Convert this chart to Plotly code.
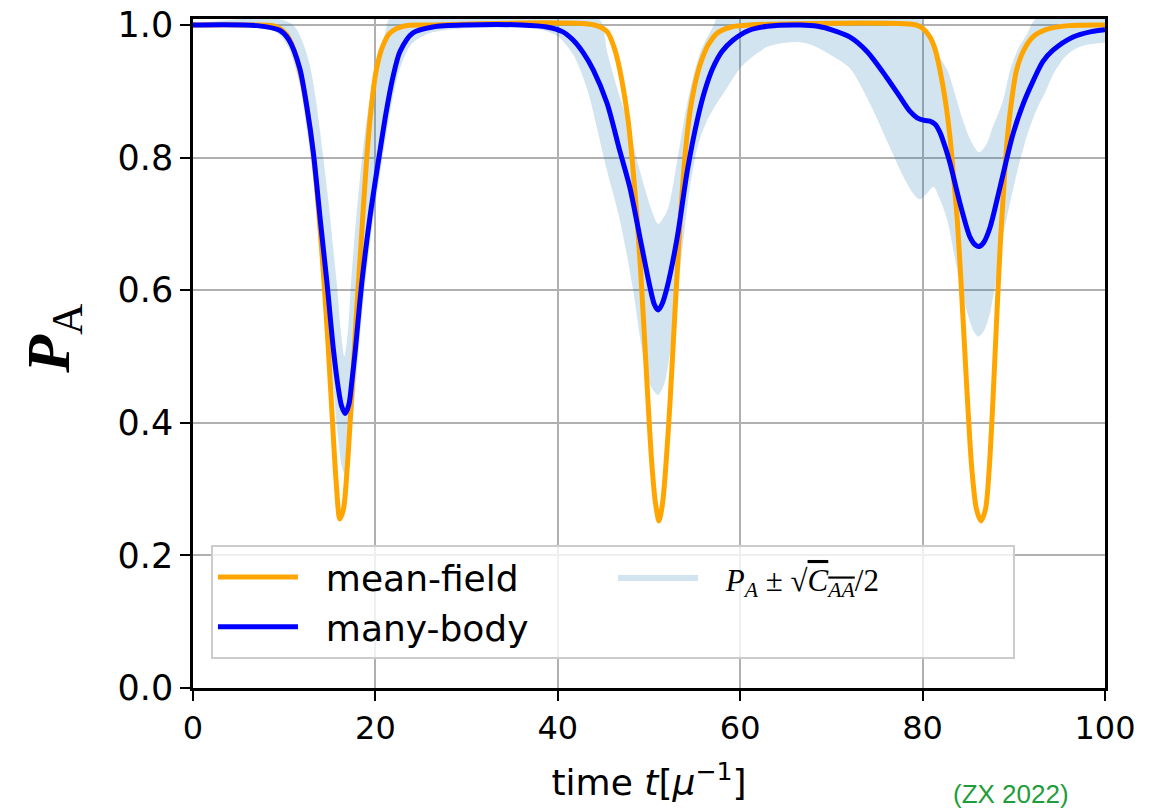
import plotly.graph_objects as go

# ---- data ----
mf_t = [0, 6, 9, 10.3, 11.0, 11.7, 12.5, 13.2, 13.8, 14.3, 14.8, 15.3, 15.7, 16.1, 16.5, 16.9,
        17.4, 17.9, 18.4, 19.0, 19.5, 20.1, 20.8, 21.6, 23, 26, 44, 45.4, 46.2, 46.8, 47.7,
        48.2, 48.7, 49.1, 49.5, 49.9, 50.3, 50.7, 51.1, 51.5, 51.9, 52.3, 52.7, 53.1, 53.5,
        54.0, 54.5, 55.0, 55.6, 56.5, 57.5, 59, 61, 79.3, 80.0, 80.8, 81.4, 81.9, 82.5, 83.0,
        83.4, 83.8, 84.2, 84.6, 85.0, 85.4, 85.9, 86.4, 86.9, 87.3, 87.7, 88.1, 88.5, 88.9,
        89.3, 89.8, 90.3, 91.1, 92.1, 93.5, 96, 100]
mf_p = [1.0, 1.0, 0.998, 0.985, 0.965, 0.932, 0.875, 0.807, 0.715, 0.625, 0.52, 0.40, 0.31, 0.255,
        0.27, 0.33, 0.44, 0.56, 0.665, 0.79, 0.87, 0.932, 0.968, 0.988, 0.998, 1.0, 1.0, 0.99,
        0.965, 0.932, 0.857, 0.79, 0.706, 0.625, 0.53, 0.43, 0.34, 0.28, 0.252, 0.28, 0.345,
        0.43, 0.53, 0.63, 0.72, 0.81, 0.87, 0.908, 0.94, 0.97, 0.988, 0.997, 1.0, 1.0, 0.995,
        0.982, 0.962, 0.932, 0.885, 0.831, 0.77, 0.706, 0.615, 0.515, 0.415, 0.33, 0.27, 0.252,
        0.27, 0.33, 0.43, 0.55, 0.665, 0.755, 0.831, 0.89, 0.932, 0.962, 0.982, 0.993, 0.999, 1.0]

mb_t = [0, 7, 9.5, 10.5, 11.7, 12.5, 13.2, 14.0, 14.7, 15.4, 15.9, 16.3, 16.7, 17.1, 17.4, 17.8,
        18.5, 19.4, 20.5, 21.2, 21.9, 22.7, 24.1, 26.3, 30, 36, 38.8, 40.5, 41.7, 42.8, 43.9,
        45.4, 46.8, 47.9, 49.0, 50.1, 50.6, 51.0, 51.4, 52.0, 53.1, 54.2, 55.3, 56.1, 57.0,
        58.0, 59.2, 61.0, 63.0, 66.6, 68.5, 70.2, 72.0, 73.9, 76.0, 77.5, 78.6, 79.4, 80.2,
        80.8, 81.4, 81.9, 82.5, 83.0, 84.1, 85.2, 85.8, 86.2, 86.7, 87.4, 88.5, 89.9, 91.0,
        92.1, 93.2, 94.3, 96.5, 98.5, 100]
mb_p = [1.0, 0.999, 0.992, 0.978, 0.935, 0.875, 0.807, 0.70, 0.61, 0.51, 0.455, 0.425, 0.414,
        0.428, 0.46, 0.51, 0.61, 0.71, 0.81, 0.87, 0.92, 0.96, 0.988, 0.997, 1.0, 1.0, 0.997,
        0.99, 0.977, 0.958, 0.932, 0.882, 0.81, 0.755, 0.68, 0.605, 0.578, 0.570, 0.578, 0.605,
        0.68, 0.78, 0.857, 0.90, 0.935, 0.96, 0.977, 0.992, 0.998, 1.0, 0.998, 0.992, 0.982,
        0.96, 0.922, 0.892, 0.87, 0.86, 0.856, 0.855, 0.85, 0.838, 0.815, 0.792, 0.731, 0.68,
        0.668, 0.666, 0.672, 0.695, 0.756, 0.835, 0.88, 0.915, 0.945, 0.962, 0.982, 0.99, 0.993]

lo_t = [0, 8, 9.5, 10.5, 11.7, 12.5, 13.2, 14.0, 14.7, 15.4, 15.9, 16.3, 16.6, 17.0, 17.4, 17.9,
        18.5, 19.4, 20.5, 21.2, 21.9, 22.7, 24, 26, 30, 36, 38, 40, 41.7, 42.8, 43.5, 45.4,
        46.8, 48.2, 49.3, 50.2, 51.0, 51.7, 52.3, 53.4, 54.5, 55.4, 56.4, 57.0, 58.6, 60.0,
        61.8, 63.0, 64.4, 66.6, 68.0, 69.5, 72.0, 74.2, 76.4, 77.9, 79.0, 79.7, 80.4, 81.2,
        81.8, 82.7, 83.8, 84.9, 85.6, 86.1, 86.7, 87.4, 88.8, 90.4, 91.5, 92.5, 93.5, 94.3,
        95.5, 96.5, 98, 100]
lo_p = [0.998, 0.995, 0.985, 0.965, 0.91, 0.84, 0.765, 0.65, 0.555, 0.45, 0.38, 0.335, 0.324,
        0.34, 0.39, 0.465, 0.56, 0.67, 0.775, 0.835, 0.89, 0.935, 0.972, 0.988, 0.995, 0.996,
        0.993, 0.983, 0.955, 0.92, 0.89, 0.78, 0.706, 0.605, 0.505, 0.455, 0.442, 0.46, 0.505,
        0.63, 0.756, 0.82, 0.857, 0.872, 0.906, 0.935, 0.957, 0.967, 0.972, 0.974, 0.969, 0.958,
        0.935, 0.882, 0.816, 0.771, 0.745, 0.737, 0.745, 0.756, 0.74, 0.706, 0.63, 0.566, 0.538,
        0.53, 0.538, 0.566, 0.68, 0.78, 0.835, 0.872, 0.9, 0.925, 0.95, 0.962, 0.97, 0.973]

hi_t = [0, 9, 11.0, 12.0, 12.8, 13.5, 14.2, 14.8, 15.4, 15.8, 16.2, 16.6, 17.0, 17.3, 17.6, 18.1,
        18.7, 19.4, 20.1, 21.0, 22, 38, 44.5, 45.4, 46.5, 47.6, 49.0, 50.3, 51.0, 52.0, 53.1,
        54.2, 55.6, 57.0, 58, 79, 80.5, 81.5, 82.7, 84.4, 85.3, 86.2, 87.0, 87.7, 88.8, 89.6,
        90.5, 91.4, 92.5, 100]
hi_p = [1.002, 1.01, 1.0, 0.975, 0.94, 0.885, 0.81, 0.74, 0.66, 0.605, 0.54, 0.50, 0.54, 0.605,
        0.66, 0.74, 0.82, 0.89, 0.94, 0.985, 1.02, 1.02, 1.01, 0.96, 0.905, 0.857, 0.78, 0.72,
        0.70, 0.72, 0.796, 0.882, 0.958, 0.997, 1.02, 1.02, 0.99, 0.96, 0.932, 0.857, 0.825,
        0.808, 0.82, 0.846, 0.885, 0.932, 0.965, 0.985, 1.01, 1.02]

x_ticks = [0, 20, 40, 60, 80, 100]
y_ticks = [0.0, 0.2, 0.4, 0.6, 0.8, 1.0]

band_label = ("\u00a0\u00a0<span style='font-family:Liberation Serif;font-size:31px'>"
              "<i>P<sub>A</sub></i> ± √<span style='text-decoration:overline'><i>C<sub>AA</sub></i></span>/2"
              "</span>")

fig = go.Figure()
fig.add_trace(go.Scatter(x=lo_t, y=lo_p, mode="lines", line=dict(width=0, shape="spline", smoothing=0.8),
                         showlegend=False, hoverinfo="skip"))
fig.add_trace(go.Scatter(x=hi_t, y=hi_p, mode="lines", line=dict(width=0, shape="spline", smoothing=0.8),
                         fill="tonexty", fillcolor="rgba(31,119,180,0.2)", name=band_label, legendrank=2))
fig.add_trace(go.Scatter(x=mf_t, y=mf_p, mode="lines", name="\u00a0\u00a0mean-field",
                         line=dict(color="#FFA500", width=5, shape="spline", smoothing=0.8), legendrank=1))
fig.add_trace(go.Scatter(x=mb_t, y=mb_p, mode="lines", name="\u00a0\u00a0many-body",
                         line=dict(color="#0000FF", width=5, shape="spline", smoothing=0.8), legendrank=3))

axis_common = dict(showline=True, linecolor="black", linewidth=2.5, mirror=True,
                   showgrid=True, gridcolor="#b0b0b0", gridwidth=2, zeroline=False,
                   ticks="outside", ticklen=10, tickwidth=2, tickcolor="black")

fig.update_xaxes(range=[0, 100], tickvals=x_ticks, ticktext=[str(v) for v in x_ticks],
                 tickfont=dict(family="DejaVu Sans", size=32, color="black"),
                 title=dict(text="time <i>t</i>[<i>μ</i><sup>−1</sup>]",
                            font=dict(family="DejaVu Sans", size=36, color="black"), standoff=24),
                 **axis_common)
fig.update_yaxes(range=[0, 1.009], tickvals=y_ticks, ticktext=[f"{v:.1f}" for v in y_ticks],
                 tickfont=dict(family="DejaVu Sans", size=35, color="black"),
                 **axis_common)

fig.update_layout(
    width=1171, height=811,
    margin=dict(l=193, r=66, t=19, b=123, pad=0, autoexpand=False),
    paper_bgcolor="white", plot_bgcolor="white",
    legend=dict(orientation="h", x=0.0197, y=0.2137, xanchor="left", yanchor="top",
                entrywidth=305, entrywidthmode="pixels", itemwidth=80, traceorder="normal",
                bgcolor="rgba(255,255,255,0.8)", bordercolor="#cccccc", borderwidth=2,
                font=dict(family="DejaVu Sans", size=36, color="black")),
    annotations=[
        dict(text="<b><i>P</i></b><sub>A</sub>", x=-0.155, y=0.523, xref="paper", yref="paper",
             xanchor="center", yanchor="middle", textangle=-90, showarrow=False,
             font=dict(family="Liberation Serif", size=62, color="black")),
        dict(text="(ZX 2022)", x=0.897, y=-0.158, xref="paper", yref="paper",
             xanchor="center", yanchor="middle", showarrow=False,
             font=dict(family="Liberation Sans", size=26, color="#1f9d3a")),
    ],
)

fig.write_html("out.html")
